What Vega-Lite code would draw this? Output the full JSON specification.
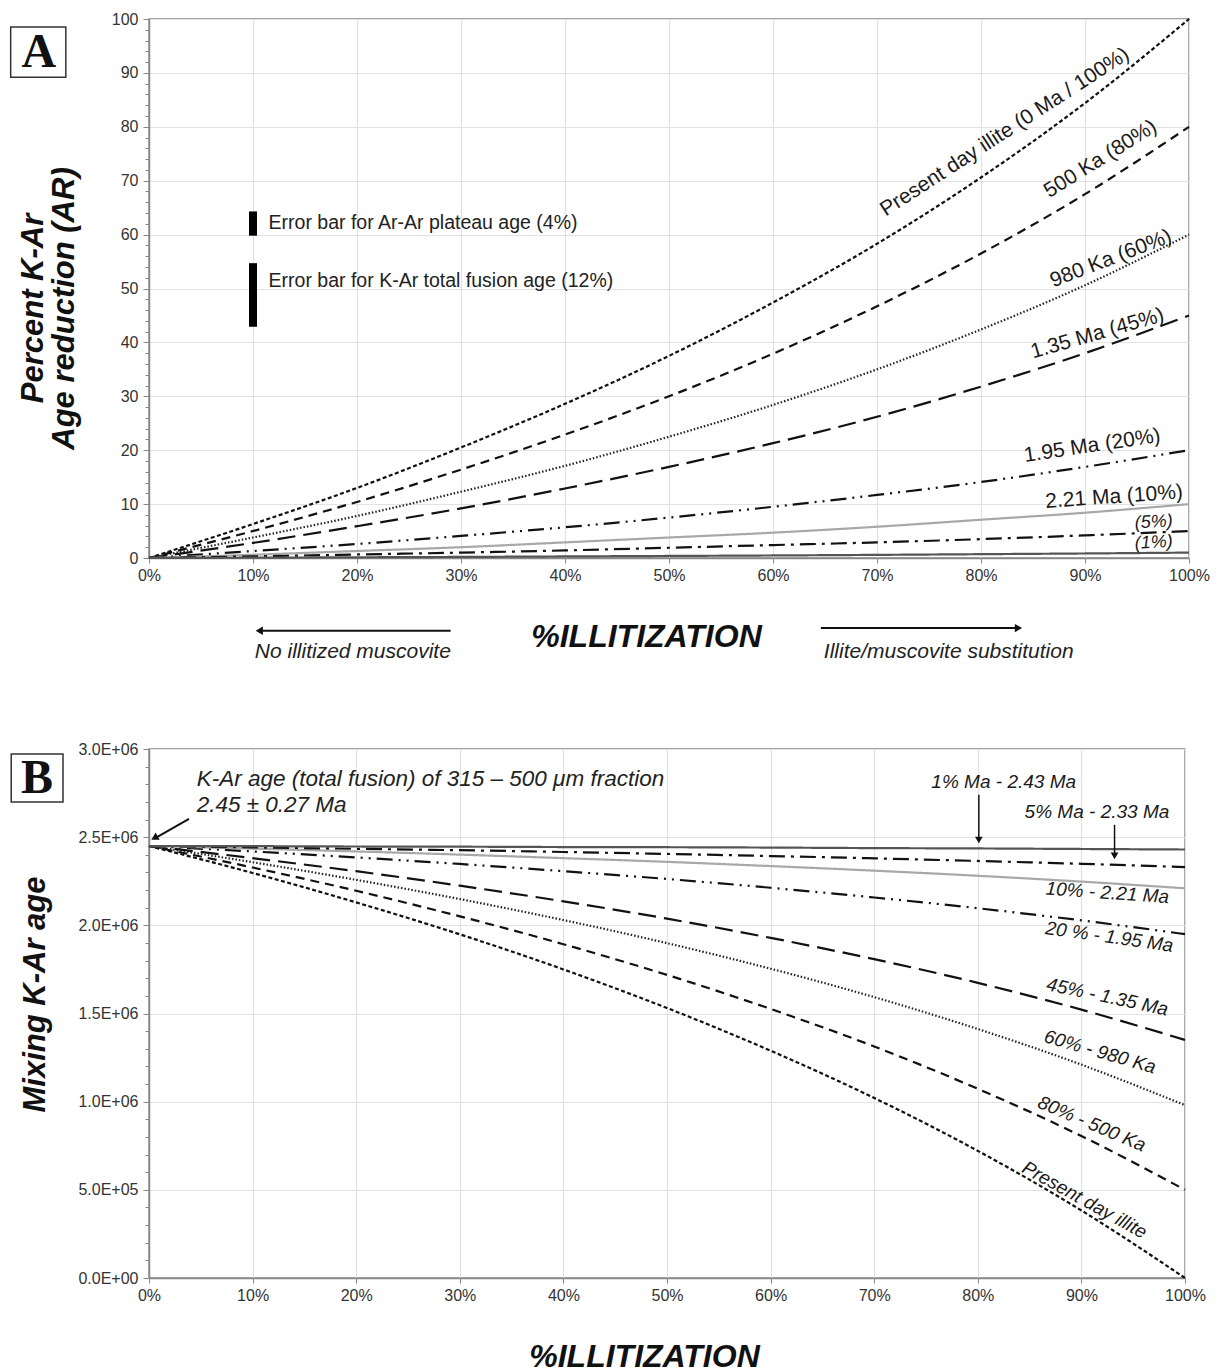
{
"$schema":"https://vega.github.io/schema/vega-lite/v6.json",
"background":"white",
"padding":{"left":9,"top":10,"right":10,"bottom":0},
"spacing":77,
"config":{
 "font":"Liberation Sans",
 "view":{"stroke":"#888","strokeWidth":1.5},
 "axis":{"labelFont":"Liberation Sans","labelFontSize":16,"labelColor":"#333","labelFlush":false,"gridColor":"#e2e2e2","gridWidth":1.2,"domainColor":"#888","domainWidth":1.5,"tickColor":"#888","titleFont":"Liberation Sans","titleFontWeight":"bold","titleFontStyle":"italic","titleColor":"#111"},
 "text":{"color":"#1a1a1a"}
},
"datasets":{
"curvesA":[
{"s":"Present day illite","x":0,"y":0},{"s":"Present day illite","x":10,"y":6.3},{"s":"Present day illite","x":20,"y":13.0},{"s":"Present day illite","x":30,"y":20.5},{"s":"Present day illite","x":40,"y":28.6},{"s":"Present day illite","x":50,"y":37.5},{"s":"Present day illite","x":60,"y":47.4},{"s":"Present day illite","x":70,"y":58.3},{"s":"Present day illite","x":80,"y":70.6},{"s":"Present day illite","x":90,"y":84.4},{"s":"Present day illite","x":100,"y":100},
{"s":"500 Ka","x":0,"y":0},{"s":"500 Ka","x":10,"y":5.0},{"s":"500 Ka","x":20,"y":10.4},{"s":"500 Ka","x":30,"y":16.4},{"s":"500 Ka","x":40,"y":22.9},{"s":"500 Ka","x":50,"y":30.0},{"s":"500 Ka","x":60,"y":37.9},{"s":"500 Ka","x":70,"y":46.7},{"s":"500 Ka","x":80,"y":56.5},{"s":"500 Ka","x":90,"y":67.5},{"s":"500 Ka","x":100,"y":80},
{"s":"980 Ka","x":0,"y":0},{"s":"980 Ka","x":10,"y":3.8},{"s":"980 Ka","x":20,"y":7.8},{"s":"980 Ka","x":30,"y":12.3},{"s":"980 Ka","x":40,"y":17.1},{"s":"980 Ka","x":50,"y":22.5},{"s":"980 Ka","x":60,"y":28.4},{"s":"980 Ka","x":70,"y":35.0},{"s":"980 Ka","x":80,"y":42.4},{"s":"980 Ka","x":90,"y":50.6},{"s":"980 Ka","x":100,"y":60},
{"s":"1.35 Ma","x":0,"y":0},{"s":"1.35 Ma","x":10,"y":2.8},{"s":"1.35 Ma","x":20,"y":5.9},{"s":"1.35 Ma","x":30,"y":9.2},{"s":"1.35 Ma","x":40,"y":12.9},{"s":"1.35 Ma","x":50,"y":16.9},{"s":"1.35 Ma","x":60,"y":21.3},{"s":"1.35 Ma","x":70,"y":26.2},{"s":"1.35 Ma","x":80,"y":31.8},{"s":"1.35 Ma","x":90,"y":38.0},{"s":"1.35 Ma","x":100,"y":45},
{"s":"1.95 Ma","x":0,"y":0},{"s":"1.95 Ma","x":10,"y":1.3},{"s":"1.95 Ma","x":20,"y":2.6},{"s":"1.95 Ma","x":30,"y":4.1},{"s":"1.95 Ma","x":40,"y":5.7},{"s":"1.95 Ma","x":50,"y":7.5},{"s":"1.95 Ma","x":60,"y":9.5},{"s":"1.95 Ma","x":70,"y":11.7},{"s":"1.95 Ma","x":80,"y":14.1},{"s":"1.95 Ma","x":90,"y":16.9},{"s":"1.95 Ma","x":100,"y":20},
{"s":"2.21 Ma","x":0,"y":0},{"s":"2.21 Ma","x":10,"y":0.6},{"s":"2.21 Ma","x":20,"y":1.3},{"s":"2.21 Ma","x":30,"y":2.0},{"s":"2.21 Ma","x":40,"y":2.9},{"s":"2.21 Ma","x":50,"y":3.8},{"s":"2.21 Ma","x":60,"y":4.7},{"s":"2.21 Ma","x":70,"y":5.8},{"s":"2.21 Ma","x":80,"y":7.1},{"s":"2.21 Ma","x":90,"y":8.4},{"s":"2.21 Ma","x":100,"y":10},
{"s":"2.33 Ma","x":0,"y":0},{"s":"2.33 Ma","x":10,"y":0.3},{"s":"2.33 Ma","x":20,"y":0.65},{"s":"2.33 Ma","x":30,"y":1.0},{"s":"2.33 Ma","x":40,"y":1.4},{"s":"2.33 Ma","x":50,"y":1.9},{"s":"2.33 Ma","x":60,"y":2.4},{"s":"2.33 Ma","x":70,"y":2.9},{"s":"2.33 Ma","x":80,"y":3.5},{"s":"2.33 Ma","x":90,"y":4.2},{"s":"2.33 Ma","x":100,"y":5},
{"s":"2.43 Ma","x":0,"y":0},{"s":"2.43 Ma","x":10,"y":0.06},{"s":"2.43 Ma","x":20,"y":0.13},{"s":"2.43 Ma","x":30,"y":0.2},{"s":"2.43 Ma","x":40,"y":0.29},{"s":"2.43 Ma","x":50,"y":0.38},{"s":"2.43 Ma","x":60,"y":0.47},{"s":"2.43 Ma","x":70,"y":0.58},{"s":"2.43 Ma","x":80,"y":0.71},{"s":"2.43 Ma","x":90,"y":0.84},{"s":"2.43 Ma","x":100,"y":1}
],
"curvesB":[
{"s":"Present day illite","x":0,"y":2450000},{"s":"Present day illite","x":10,"y":2297000},{"s":"Present day illite","x":20,"y":2130000},{"s":"Present day illite","x":30,"y":1949000},{"s":"Present day illite","x":40,"y":1750000},{"s":"Present day illite","x":50,"y":1531000},{"s":"Present day illite","x":60,"y":1289000},{"s":"Present day illite","x":70,"y":1021000},{"s":"Present day illite","x":80,"y":721000},{"s":"Present day illite","x":90,"y":383000},{"s":"Present day illite","x":100,"y":0},
{"s":"500 Ka","x":0,"y":2450000},{"s":"500 Ka","x":10,"y":2328000},{"s":"500 Ka","x":20,"y":2196000},{"s":"500 Ka","x":30,"y":2051000},{"s":"500 Ka","x":40,"y":1893000},{"s":"500 Ka","x":50,"y":1719000},{"s":"500 Ka","x":60,"y":1526000},{"s":"500 Ka","x":70,"y":1313000},{"s":"500 Ka","x":80,"y":1073000},{"s":"500 Ka","x":90,"y":805000},{"s":"500 Ka","x":100,"y":500000},
{"s":"980 Ka","x":0,"y":2450000},{"s":"980 Ka","x":10,"y":2358000},{"s":"980 Ka","x":20,"y":2258000},{"s":"980 Ka","x":30,"y":2149000},{"s":"980 Ka","x":40,"y":2030000},{"s":"980 Ka","x":50,"y":1899000},{"s":"980 Ka","x":60,"y":1754000},{"s":"980 Ka","x":70,"y":1593000},{"s":"980 Ka","x":80,"y":1412000},{"s":"980 Ka","x":90,"y":1210000},{"s":"980 Ka","x":100,"y":980000},
{"s":"1.35 Ma","x":0,"y":2450000},{"s":"1.35 Ma","x":10,"y":2381000},{"s":"1.35 Ma","x":20,"y":2307000},{"s":"1.35 Ma","x":30,"y":2225000},{"s":"1.35 Ma","x":40,"y":2136000},{"s":"1.35 Ma","x":50,"y":2038000},{"s":"1.35 Ma","x":60,"y":1929000},{"s":"1.35 Ma","x":70,"y":1808000},{"s":"1.35 Ma","x":80,"y":1674000},{"s":"1.35 Ma","x":90,"y":1522000},{"s":"1.35 Ma","x":100,"y":1350000},
{"s":"1.95 Ma","x":0,"y":2450000},{"s":"1.95 Ma","x":10,"y":2419000},{"s":"1.95 Ma","x":20,"y":2385000},{"s":"1.95 Ma","x":30,"y":2348000},{"s":"1.95 Ma","x":40,"y":2307000},{"s":"1.95 Ma","x":50,"y":2263000},{"s":"1.95 Ma","x":60,"y":2213000},{"s":"1.95 Ma","x":70,"y":2158000},{"s":"1.95 Ma","x":80,"y":2097000},{"s":"1.95 Ma","x":90,"y":2028000},{"s":"1.95 Ma","x":100,"y":1950000},
{"s":"2.21 Ma","x":0,"y":2450000},{"s":"2.21 Ma","x":10,"y":2435000},{"s":"2.21 Ma","x":20,"y":2419000},{"s":"2.21 Ma","x":30,"y":2401000},{"s":"2.21 Ma","x":40,"y":2381000},{"s":"2.21 Ma","x":50,"y":2360000},{"s":"2.21 Ma","x":60,"y":2336000},{"s":"2.21 Ma","x":70,"y":2310000},{"s":"2.21 Ma","x":80,"y":2281000},{"s":"2.21 Ma","x":90,"y":2248000},{"s":"2.21 Ma","x":100,"y":2210000},
{"s":"2.33 Ma","x":0,"y":2450000},{"s":"2.33 Ma","x":10,"y":2442000},{"s":"2.33 Ma","x":20,"y":2434000},{"s":"2.33 Ma","x":30,"y":2426000},{"s":"2.33 Ma","x":40,"y":2416000},{"s":"2.33 Ma","x":50,"y":2405000},{"s":"2.33 Ma","x":60,"y":2393000},{"s":"2.33 Ma","x":70,"y":2380000},{"s":"2.33 Ma","x":80,"y":2365000},{"s":"2.33 Ma","x":90,"y":2349000},{"s":"2.33 Ma","x":100,"y":2330000},
{"s":"2.43 Ma","x":0,"y":2450000},{"s":"2.43 Ma","x":10,"y":2449000},{"s":"2.43 Ma","x":20,"y":2447000},{"s":"2.43 Ma","x":30,"y":2446000},{"s":"2.43 Ma","x":40,"y":2444000},{"s":"2.43 Ma","x":50,"y":2443000},{"s":"2.43 Ma","x":60,"y":2441000},{"s":"2.43 Ma","x":70,"y":2438000},{"s":"2.43 Ma","x":80,"y":2436000},{"s":"2.43 Ma","x":90,"y":2433000},{"s":"2.43 Ma","x":100,"y":2430000}
]
},
"vconcat":[
{
 "width":1040,"height":539,
 "resolve":{"axis":{"y":"independent"}},
 "encoding":{
  "x":{"field":"x","type":"quantitative","scale":{"domain":[0,100],"nice":false},
   "axis":{"values":[0,10,20,30,40,50,60,70,80,90,100],"labelExpr":"datum.value + '%'","grid":true,"tickSize":5,"labelPadding":4,"title":"%ILLITIZATION","titleFontSize":32,"titlePadding":38,"titleX":497}},
  "y":{"field":"y","type":"quantitative","scale":{"domain":[0,100],"nice":false},"axis":null}
 },
 "layer":[
  {"data":{"name":"curvesA"},"mark":{"type":"line","interpolate":"monotone"},
   "encoding":{
    "y":{"field":"y","type":"quantitative","scale":{"domain":[0,100],"nice":false},
     "axis":{"values":[0,10,20,30,40,50,60,70,80,90,100],"grid":true,"tickSize":6,"labelPadding":5,"title":["Percent  K-Ar","Age reduction (AR)"],"titleFontSize":31,"titleLineHeight":31,"titlePadding":31,"titleY":289}},
    "color":{"field":"s","type":"nominal","scale":{"domain":["Present day illite","500 Ka","980 Ka","1.35 Ma","1.95 Ma","2.21 Ma","2.33 Ma","2.43 Ma"],"range":["#111","#111","#222","#111","#111","#a8a8a8","#111","#555"]},"legend":null},
    "strokeDash":{"field":"s","type":"nominal","scale":{"domain":["Present day illite","500 Ka","980 Ka","1.35 Ma","1.95 Ma","2.21 Ma","2.33 Ma","2.43 Ma"],"range":[[4,2.5],[9,6],[1.5,2],[18,8],[16,6,2,6,2,6],[1,0],[16,6,3,6],[1,0]]},"legend":null},
    "strokeWidth":{"field":"s","type":"nominal","scale":{"domain":["Present day illite","500 Ka","980 Ka","1.35 Ma","1.95 Ma","2.21 Ma","2.33 Ma","2.43 Ma"],"range":[2.2,2.2,1.6,2.6,2.4,3,2.2,2.4]},"legend":null}
   }},
  {"data":{"values":[{"x":0,"y":2},{"x":0,"y":4},{"x":0,"y":6},{"x":0,"y":8},{"x":0,"y":12},{"x":0,"y":14},{"x":0,"y":16},{"x":0,"y":18},{"x":0,"y":22},{"x":0,"y":24},{"x":0,"y":26},{"x":0,"y":28},{"x":0,"y":32},{"x":0,"y":34},{"x":0,"y":36},{"x":0,"y":38},{"x":0,"y":42},{"x":0,"y":44},{"x":0,"y":46},{"x":0,"y":48},{"x":0,"y":52},{"x":0,"y":54},{"x":0,"y":56},{"x":0,"y":58},{"x":0,"y":62},{"x":0,"y":64},{"x":0,"y":66},{"x":0,"y":68},{"x":0,"y":72},{"x":0,"y":74},{"x":0,"y":76},{"x":0,"y":78},{"x":0,"y":82},{"x":0,"y":84},{"x":0,"y":86},{"x":0,"y":88},{"x":0,"y":92},{"x":0,"y":94},{"x":0,"y":96},{"x":0,"y":98}]},
   "mark":{"type":"point","opacity":0},
   "encoding":{"y":{"field":"y","type":"quantitative","scale":{"domain":[0,100],"nice":false},
     "axis":{"orient":"left","values":[2,4,6,8,12,14,16,18,22,24,26,28,32,34,36,38,42,44,46,48,52,54,56,58,62,64,66,68,72,74,76,78,82,84,86,88,92,94,96,98],"labels":false,"grid":false,"domain":false,"ticks":true,"tickSize":4,"title":null}}}},
  {"data":{"values":[{"x":-13.3,"x2":-8.0,"y":89.2,"y2":98.5}]},"mark":{"type":"rect","fill":"white","stroke":"#333","strokeWidth":1.5},"encoding":{"x2":{"field":"x2"},"y2":{"field":"y2"}}},
  {"data":{"values":[{"x":-10.6,"y":93.6,"t":"A"}]},"mark":{"type":"text","font":"Liberation Serif","fontWeight":"bold","fontSize":48,"color":"#111"},"encoding":{"text":{"field":"t"}}},
  {"data":{"values":[{"x":10,"y":59.8,"y2":64.3},{"x":10,"y":42.9,"y2":54.7}]},"mark":{"type":"rule","strokeWidth":8,"color":"#000"},"encoding":{"y2":{"field":"y2"}}},
  {"data":{"values":[{"x":11.5,"y":62.1,"t":"Error bar for Ar-Ar plateau age (4%)"},{"x":11.5,"y":51.4,"t":"Error bar for K-Ar total fusion age (12%)"}]},"mark":{"type":"text","align":"left","fontSize":19.5,"color":"#222"},"encoding":{"text":{"field":"t"}}},
  {"data":{"values":[{"x":82.3,"y":79.0,"t":"Present day illite (0 Ma / 100%)"}]},"mark":{"type":"text","angle":327,"fontSize":21},"encoding":{"text":{"field":"t"}}},
  {"data":{"values":[{"x":91.5,"y":74.0,"t":"500 Ka (80%)"}]},"mark":{"type":"text","angle":328,"fontSize":21},"encoding":{"text":{"field":"t"}}},
  {"data":{"values":[{"x":92.5,"y":55.5,"t":"980 Ka (60%)"}]},"mark":{"type":"text","angle":339,"fontSize":21},"encoding":{"text":{"field":"t"}}},
  {"data":{"values":[{"x":91.2,"y":41.6,"t":"1.35 Ma (45%)"}]},"mark":{"type":"text","angle":344,"fontSize":21},"encoding":{"text":{"field":"t"}}},
  {"data":{"values":[{"x":90.7,"y":20.8,"t":"1.95 Ma (20%)"}]},"mark":{"type":"text","angle":351.5,"fontSize":21},"encoding":{"text":{"field":"t"}}},
  {"data":{"values":[{"x":92.8,"y":11.3,"t":"2.21 Ma (10%)"}]},"mark":{"type":"text","angle":356,"fontSize":21},"encoding":{"text":{"field":"t"}}},
  {"data":{"values":[{"x":96.6,"y":6.6,"t":"(5%)"},{"x":96.6,"y":2.8,"t":"(1%)"}]},"mark":{"type":"text","angle":357,"fontSize":18,"fontStyle":"italic"},"encoding":{"text":{"field":"t"}}},
  {"data":{"values":[{"x":10.7,"x2":29.0,"y":-13.5},{"x":64.6,"x2":83.5,"y":-13.0}]},"mark":{"type":"rule","strokeWidth":2,"color":"#111"},"encoding":{"x2":{"field":"x2"}}},
  {"data":{"values":[{"x":10.6,"y":-13.5}]},"mark":{"type":"point","shape":"triangle-left","filled":true,"size":70,"color":"#111","opacity":1},"encoding":{}},
  {"data":{"values":[{"x":83.6,"y":-13.0}]},"mark":{"type":"point","shape":"triangle-right","filled":true,"size":70,"color":"#111","opacity":1},"encoding":{}},
  {"data":{"values":[{"x":19.6,"y":-17.4,"t":"No illitized muscovite"},{"x":76.9,"y":-17.4,"t":"Illite/muscovite substitution"}]},"mark":{"type":"text","fontSize":21,"fontStyle":"italic","color":"#222"},"encoding":{"text":{"field":"t"}}}
 ]
},
{
 "width":1036,"height":529,
 "resolve":{"axis":{"y":"independent"}},
 "encoding":{
  "x":{"field":"x","type":"quantitative","scale":{"domain":[0,100],"nice":false},
   "axis":{"values":[0,10,20,30,40,50,60,70,80,90,100],"labelExpr":"datum.value + '%'","grid":true,"tickSize":5,"labelPadding":4,"title":"%ILLITIZATION","titleFontSize":32,"titlePadding":38,"titleX":495}},
  "y":{"field":"y","type":"quantitative","scale":{"domain":[0,3000000],"nice":false},"axis":null}
 },
 "layer":[
  {"data":{"name":"curvesB"},"mark":{"type":"line","interpolate":"monotone"},
   "encoding":{
    "y":{"field":"y","type":"quantitative","scale":{"domain":[0,3000000],"nice":false},
     "axis":{"values":[0,500000,1000000,1500000,2000000,2500000,3000000],"labelExpr":"datum.value == 0 ? '0.0E+00' : datum.value < 1000000 ? format(datum.value/100000,'.1f') + 'E+05' : format(datum.value/1000000,'.1f') + 'E+06'","grid":true,"tickSize":6,"labelPadding":5,"title":"Mixing K-Ar age","titleFontSize":31,"titlePadding":26,"titleY":245}},
    "color":{"field":"s","type":"nominal","scale":{"domain":["Present day illite","500 Ka","980 Ka","1.35 Ma","1.95 Ma","2.21 Ma","2.33 Ma","2.43 Ma"],"range":["#111","#111","#222","#111","#111","#a8a8a8","#111","#555"]},"legend":null},
    "strokeDash":{"field":"s","type":"nominal","scale":{"domain":["Present day illite","500 Ka","980 Ka","1.35 Ma","1.95 Ma","2.21 Ma","2.33 Ma","2.43 Ma"],"range":[[4,2.5],[9,6],[1.5,2],[18,8],[16,6,2,6,2,6],[1,0],[16,6,3,6],[1,0]]},"legend":null},
    "strokeWidth":{"field":"s","type":"nominal","scale":{"domain":["Present day illite","500 Ka","980 Ka","1.35 Ma","1.95 Ma","2.21 Ma","2.33 Ma","2.43 Ma"],"range":[2.2,2.2,1.6,2.6,2.4,3,2.2,2.4]},"legend":null}
   }},
  {"data":{"values":[{"x":0,"y":100000},{"x":0,"y":200000},{"x":0,"y":300000},{"x":0,"y":400000},{"x":0,"y":600000},{"x":0,"y":700000},{"x":0,"y":800000},{"x":0,"y":900000},{"x":0,"y":1100000},{"x":0,"y":1200000},{"x":0,"y":1300000},{"x":0,"y":1400000},{"x":0,"y":1600000},{"x":0,"y":1700000},{"x":0,"y":1800000},{"x":0,"y":1900000},{"x":0,"y":2100000},{"x":0,"y":2200000},{"x":0,"y":2300000},{"x":0,"y":2400000},{"x":0,"y":2600000},{"x":0,"y":2700000},{"x":0,"y":2800000},{"x":0,"y":2900000}]},
   "mark":{"type":"point","opacity":0},
   "encoding":{"y":{"field":"y","type":"quantitative","scale":{"domain":[0,3000000],"nice":false},
     "axis":{"orient":"left","values":[100000,200000,300000,400000,600000,700000,800000,900000,1100000,1200000,1300000,1400000,1600000,1700000,1800000,1900000,2100000,2200000,2300000,2400000,2600000,2700000,2800000,2900000],"labels":false,"grid":false,"domain":false,"ticks":true,"tickSize":4,"title":null}}}},
  {"data":{"values":[{"x":-13.3,"x2":-8.3,"y":2700000,"y2":2972000}]},"mark":{"type":"rect","fill":"white","stroke":"#333","strokeWidth":1.5},"encoding":{"x2":{"field":"x2"},"y2":{"field":"y2"}}},
  {"data":{"values":[{"x":-10.8,"y":2830000,"t":"B"}]},"mark":{"type":"text","font":"Liberation Serif","fontWeight":"bold","fontSize":48,"color":"#111"},"encoding":{"text":{"field":"t"}}},
  {"data":{"values":[{"x":4.6,"y":2830000,"t":"K-Ar age (total fusion) of 315 – 500 μm fraction"},{"x":4.6,"y":2683000,"t":"2.45 ± 0.27 Ma"}]},"mark":{"type":"text","align":"left","fontSize":22.5,"fontStyle":"italic","color":"#222"},"encoding":{"text":{"field":"t"}}},
  {"data":{"values":[{"x":3.86,"y":2604000,"x2":0.6,"y2":2494000}]},"mark":{"type":"rule","strokeWidth":2,"color":"#111"},"encoding":{"x2":{"field":"x2"},"y2":{"field":"y2"}}},
  {"data":{"values":[{"x":0.53,"y":2496000}]},"mark":{"type":"point","shape":"triangle-up","angle":241,"filled":true,"size":70,"color":"#111","opacity":1},"encoding":{}},
  {"data":{"values":[{"x":80.1,"y":2740000,"y2":2490000},{"x":93.2,"y":2570000,"y2":2400000}]},"mark":{"type":"rule","strokeWidth":1.5,"color":"#111"},"encoding":{"y2":{"field":"y2"}}},
  {"data":{"values":[{"x":80.1,"y":2484000},{"x":93.2,"y":2394000}]},"mark":{"type":"point","shape":"triangle-down","filled":true,"size":60,"color":"#111","opacity":1},"encoding":{}},
  {"data":{"values":[{"x":82.5,"y":2813000,"t":"1% Ma - 2.43 Ma"},{"x":91.5,"y":2643000,"t":"5% Ma - 2.33 Ma"}]},"mark":{"type":"text","fontSize":19,"fontStyle":"italic"},"encoding":{"text":{"field":"t"}}},
  {"data":{"values":[{"x":92.5,"y":2184000,"t":"10% - 2.21 Ma"}]},"mark":{"type":"text","angle":4,"fontSize":19,"fontStyle":"italic"},"encoding":{"text":{"field":"t"}}},
  {"data":{"values":[{"x":92.7,"y":1934000,"t":"20 % - 1.95 Ma"}]},"mark":{"type":"text","angle":8,"fontSize":19,"fontStyle":"italic"},"encoding":{"text":{"field":"t"}}},
  {"data":{"values":[{"x":92.5,"y":1594000,"t":"45% - 1.35 Ma"}]},"mark":{"type":"text","angle":12,"fontSize":19,"fontStyle":"italic"},"encoding":{"text":{"field":"t"}}},
  {"data":{"values":[{"x":91.8,"y":1282000,"t":"60% - 980 Ka"}]},"mark":{"type":"text","angle":16,"fontSize":19,"fontStyle":"italic"},"encoding":{"text":{"field":"t"}}},
  {"data":{"values":[{"x":91.0,"y":874000,"t":"80% - 500 Ka"}]},"mark":{"type":"text","angle":23,"fontSize":19,"fontStyle":"italic"},"encoding":{"text":{"field":"t"}}},
  {"data":{"values":[{"x":90.3,"y":442000,"t":"Present day illite"}]},"mark":{"type":"text","angle":29,"fontSize":19,"fontStyle":"italic"},"encoding":{"text":{"field":"t"}}}
 ]
}
]
}
